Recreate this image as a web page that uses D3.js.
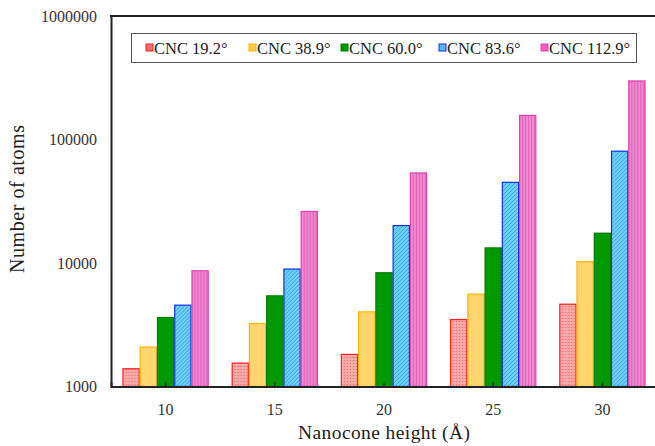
<!DOCTYPE html>
<html><head><meta charset="utf-8">
<script src="https://cdn.jsdelivr.net/npm/d3@7"></script>
<style>body{margin:0;background:#fff}svg{display:block}</style>
</head><body><svg id="c" width="655" height="446"></svg>
<script>
const heights = ["10","15","20","25","30"];
const seriesNames = ["CNC 19.2°","CNC 38.9°","CNC 60.0°","CNC 83.6°","CNC 112.9°"];
const s192 = [1393, 1546, 1820, 3485, 4640];
const s389 = [2087, 3235, 4020, 5597, 10240];
const s600 = [3618, 5420, 8340, 13250, 17430];
const s836 = [4555, 8935, 20100, 45000, 80400];
const s1129 = [8652, 26140, 53600, 156700, 298000];
const yTicks = [1000, 10000, 100000, 1000000];
const series = [s192, s389, s600, s836, s1129];
const FONT = "'Liberation Serif'";

const svg = d3.select("#c");
const defs = svg.append("defs");
const p0 = defs.append("pattern").attr("id","pat0").attr("patternUnits","userSpaceOnUse").attr("width",3).attr("height",3);
p0.append("rect").attr("width",3).attr("height",3).attr("fill","#f8a3a3");
p0.append("rect").attr("width",1).attr("height",1).attr("fill","#f06b6b");
p0.append("rect").attr("x",1.5).attr("y",1.5).attr("width",1).attr("height",1).attr("fill","#fbc6c6");
const p1 = defs.append("pattern").attr("id","pat1").attr("patternUnits","userSpaceOnUse").attr("width",4).attr("height",4);
p1.append("rect").attr("width",4).attr("height",4).attr("fill","#ffd66e");
const p3 = defs.append("pattern").attr("id","pat3").attr("patternUnits","userSpaceOnUse").attr("width",4).attr("height",4);
p3.append("rect").attr("width",4).attr("height",4).attr("fill","#6fd0f5");
p3.append("path").attr("d","M-1,1 l2,-2 M0,4 l4,-4 M3,5 l2,-2").attr("stroke","#2f9fdc").attr("stroke-width",0.9);
const p4 = defs.append("pattern").attr("id","pat4").attr("patternUnits","userSpaceOnUse").attr("width",3).attr("height",3);
p4.append("rect").attr("width",3).attr("height",3).attr("fill","#f08ad0");
p4.append("rect").attr("width",1).attr("height",3).attr("fill","#e060b8");

const fills = ["url(#pat0)","url(#pat1)","#009a00","url(#pat3)","url(#pat4)"];
const strokes = ["#ff2020","#ffb400","#007a00","#1030e0","#e040b0"];
const legFills = ["#f46b7b","#ffc84a","#009a00","#5ab6f0","#ee5fc0"];

const L = 111, T = 16, B = 386.5, R = 657;
const x0 = d3.scaleBand().domain(heights).range([L, R]).paddingInner(0.21).paddingOuter(0.105);
const x1 = d3.scaleBand().domain(d3.range(5)).range([0, x0.bandwidth()]);
const y = d3.scaleLog().domain([1000, 1000000]).range([B, T]);

heights.forEach((h, i) => {
  const g = svg.append("g").attr("transform", `translate(${x0(h)},0)`);
  series.forEach((s, k) => {
    g.append("rect")
      .attr("x", x1(k)+0.5).attr("width", x1.bandwidth()-1)
      .attr("y", y(s[i])).attr("height", B - y(s[i]))
      .attr("fill", fills[k]).attr("stroke", strokes[k]).attr("stroke-width", 1.2);
  });
});

const xa = svg.append("g").attr("transform", `translate(0,${B})`)
  .call(d3.axisBottom(x0).tickSize(-4).tickPadding(17));
xa.attr("font-family", null);
xa.select(".domain").attr("stroke","#222").attr("stroke-width",2);
xa.selectAll("text").attr("font-size",16).style("font-family",FONT).style("fill","#333");
xa.selectAll("line").attr("stroke","#222").attr("stroke-width",1.5);

const ya = svg.append("g").attr("transform", `translate(${L},0)`)
  .call(d3.axisLeft(y).tickValues(yTicks).tickFormat(d3.format("d")).tickSize(0).tickPadding(14));
ya.attr("font-family", null);
ya.select(".domain").attr("stroke","#222").attr("stroke-width",2);
ya.selectAll("text").attr("font-size",16).style("font-family",FONT).style("fill","#333");

svg.append("line").attr("x1",L-1).attr("x2",R).attr("y1",T).attr("y2",T).attr("stroke","#222").attr("stroke-width",2);

svg.append("text").attr("x",384).attr("y",439).attr("text-anchor","middle").attr("font-size",19.5)
  .attr("textLength",172).attr("lengthAdjust","spacing")
  .style("font-family",FONT).style("fill","#222").text("Nanocone height (Å)");
svg.append("text").attr("transform","translate(24,199) rotate(-90)").attr("text-anchor","middle").attr("font-size",20)
  .attr("textLength",148).attr("lengthAdjust","spacing")
  .style("font-family",FONT).style("fill","#222").text("Number of atoms");

svg.append("rect").attr("x",131.5).attr("y",33.5).attr("width",505).attr("height",29).attr("fill","#fff").attr("stroke","#555").attr("stroke-width",1);
const legX = [146, 249, 341, 439, 541];
seriesNames.forEach((n, k) => {
  svg.append("rect").attr("x",legX[k]).attr("y",44).attr("width",7).attr("height",7)
    .attr("fill",legFills[k]).attr("stroke",strokes[k]).attr("stroke-width",1);
  svg.append("text").attr("x",legX[k]+8).attr("y",53.5).attr("font-size",16.5)
    .style("font-family",FONT).style("fill","#222").text(n);
});
</script></body></html>
